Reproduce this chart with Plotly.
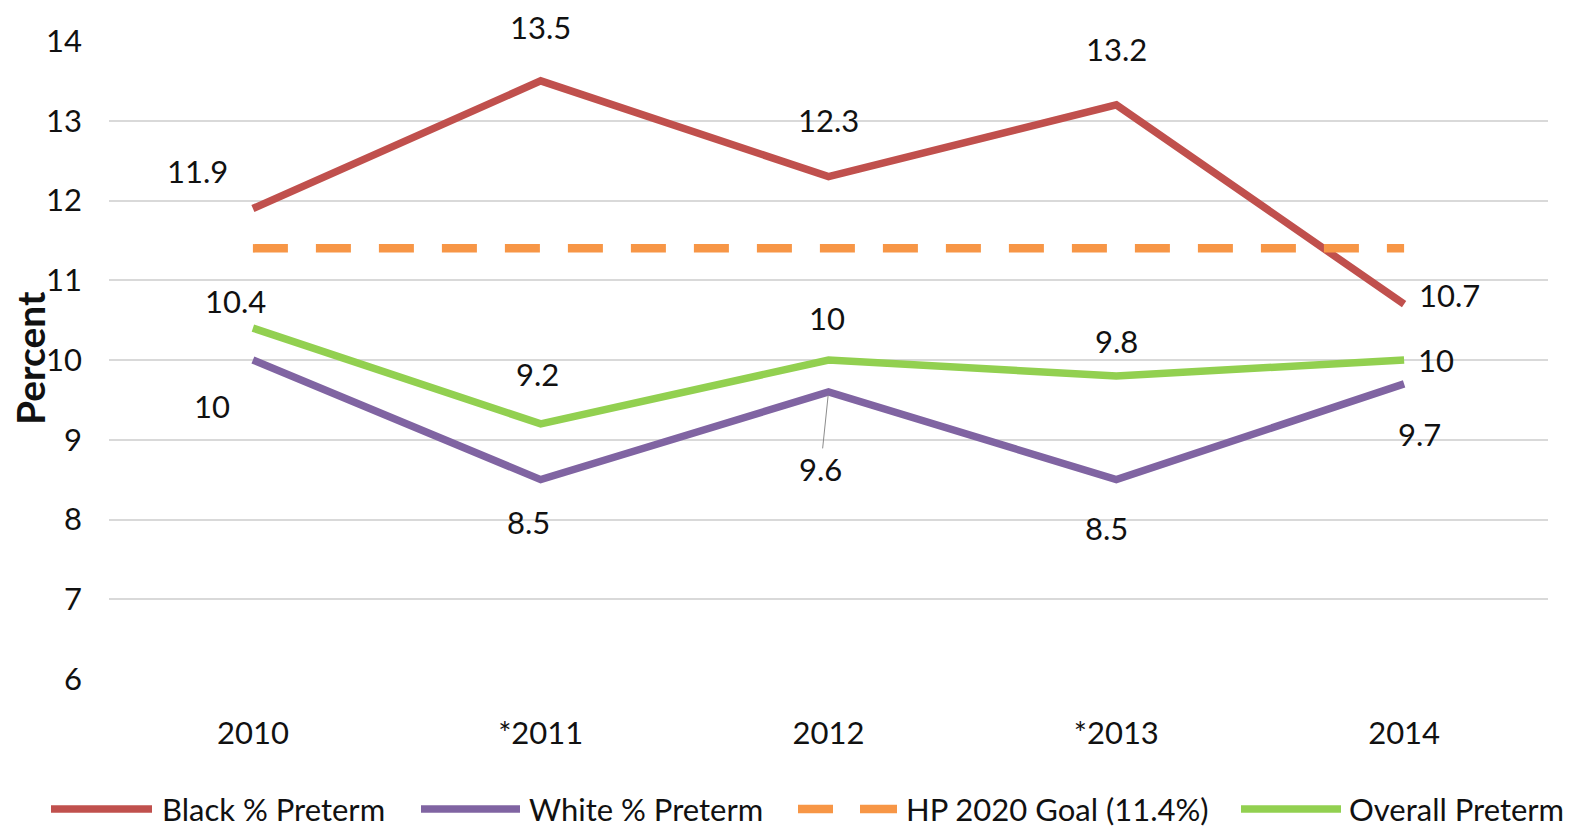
import plotly.graph_objects as go

years = ["2010", "*2011", "2012", "*2013", "2014"]
black = [11.9, 13.5, 12.3, 13.2, 10.7]
white = [10, 8.5, 9.6, 8.5, 9.7]
goal = [11.4, 11.4, 11.4, 11.4, 11.4]
overall = [10.4, 9.2, 10, 9.8, 10]
y_ticks = [6, 7, 8, 9, 10, 11, 12, 13, 14]

series_names = ["Black % Preterm", "White % Preterm", "HP 2020 Goal (11.4%)", "Overall Preterm"]
colors = ["#C0504D", "#8064A2", "#F79646", "#92D050"]

FONT = "Lato"
FS = 31
TXT = "#111111"
LW = 7.5

# label pixel offsets (dx, dy screen-down)
black_off = [(-55, -37), (0, -54), (0, -57), (0, -56), (45, -9)]
white_off = [(-41, 46), (-12, 42), None, (-10, 48), (15, 50)]
overall_off = [(-17, -27), (-3, -50), (-2, -42), (0, -35), (32, 0)]

fig = go.Figure()
fig.add_trace(go.Scatter(x=years, y=black, mode="lines", line=dict(color=colors[0], width=LW), showlegend=False))
fig.add_trace(go.Scatter(x=years, y=white, mode="lines", line=dict(color=colors[1], width=LW), showlegend=False))
fig.add_trace(go.Scatter(x=years, y=goal, mode="lines", line=dict(color=colors[2], width=8.5, dash="35px,28px"), showlegend=False))
fig.add_trace(go.Scatter(x=years, y=overall, mode="lines", line=dict(color=colors[3], width=LW), showlegend=False))

# page body has an 8px margin: figure pixel = screen pixel - 8
OFF = 8
W, H = 1583 - 2 * OFF, 830 - OFF
# plot area in screen pixels
SX0, SX1, SY0, SY1 = 109, 1548, 41, 679
L = SX0 - OFF
R = W - (SX1 - OFF)
T = SY0 - OFF
B = H - (SY1 - OFF)
pw, ph = W - L - R, H - T - B

def px2paper(xs, ys):
    xf, yf = xs - OFF, ys - OFF
    return (xf - L) / pw, (H - B - yf) / ph

annotations = []

def add_labels(vals, offs):
    for i, (v, off) in enumerate(zip(vals, offs)):
        if off is None:
            continue
        annotations.append(dict(x=i, y=v, xref="x", yref="y", text=f"{v:g}", showarrow=False,
                                xshift=off[0], yshift=-off[1], font=dict(family=FONT, size=FS, color=TXT)))

add_labels(black, black_off)
add_labels(white, white_off)
add_labels(overall, overall_off)
# leader-line label for 9.6
annotations.append(dict(x=2, y=white[2], xref="x", yref="y", text=f"{white[2]:g}", showarrow=True,
                        ax=-8, ay=77, arrowhead=0, arrowwidth=1, arrowcolor="#8c8c8c", standoff=3,
                        font=dict(family=FONT, size=FS, color=TXT)))

# y axis title
yt = px2paper(30, 358)
annotations.append(dict(x=yt[0], y=yt[1], xref="paper", yref="paper", text="<b>Percent</b>", textangle=-90,
                        showarrow=False, xanchor="center", yanchor="middle",
                        font=dict(family=FONT, size=39, color=TXT)))

# custom legend (screen pixel positions)
shapes = []
leg_y = 809
leg_items = [
    (51, 152, None, 161),
    (421, 520, None, 528),
    (798, 897, "dash", 905),
    (1241, 1341, None, 1348),
]
for (x0, x1, st, tx), name, col in zip(leg_items, series_names, colors):
    a = px2paper(x0, leg_y)
    b = px2paper(x1, leg_y)
    if st == "dash":
        shapes.append(dict(type="line", xref="paper", yref="paper", x0=a[0], x1=px2paper(833, 0)[0], y0=a[1], y1=a[1],
                           line=dict(color=col, width=8.5)))
        shapes.append(dict(type="line", xref="paper", yref="paper", x0=px2paper(860, 0)[0], x1=b[0], y0=a[1], y1=a[1],
                           line=dict(color=col, width=8.5)))
    else:
        shapes.append(dict(type="line", xref="paper", yref="paper", x0=a[0], x1=b[0], y0=a[1], y1=a[1],
                           line=dict(color=col, width=LW)))
    t = px2paper(tx, leg_y)
    annotations.append(dict(x=t[0], y=t[1], xref="paper", yref="paper", text=name, showarrow=False,
                            xanchor="left", yanchor="middle", borderpad=0,
                            font=dict(family=FONT, size=FS, color=TXT)))

fig.update_layout(
    width=W, height=H,
    margin=dict(l=L, r=R, t=T, b=B),
    plot_bgcolor="white", paper_bgcolor="white",
    font=dict(family=FONT, size=FS, color=TXT),
    annotations=annotations, shapes=shapes,
    xaxis=dict(type="category", range=[-0.5, 4.5], showgrid=False, showline=False, zeroline=False, ticks="",
               ticklabelstandoff=33, tickfont=dict(family=FONT, size=FS, color=TXT)),
    yaxis=dict(range=[6, 14], tickvals=y_ticks, showgrid=True, gridcolor="#D9D9D9", gridwidth=1.5,
               zeroline=False, showline=False, ticks="", ticklabelstandoff=26,
               tickfont=dict(family=FONT, size=FS, color=TXT)),
)
fig.write_html("out.html")
